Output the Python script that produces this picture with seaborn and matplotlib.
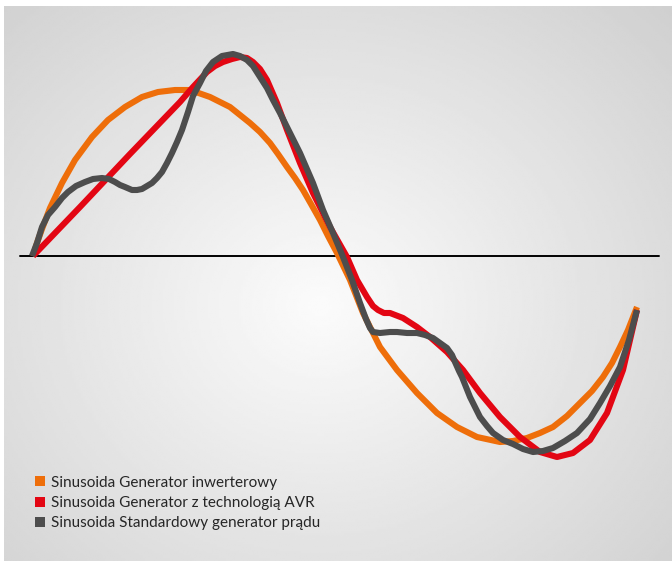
import numpy as np
import pandas as pd
import matplotlib
matplotlib.use("Agg")
import matplotlib.pyplot as plt
from matplotlib.lines import Line2D
import seaborn as sns

# series: x position and amplitude above the zero line
labels = ["Sinusoida Generator inwerterowy",
          "Sinusoida Generator z technologią AVR",
          "Sinusoida Standardowy generator prądu"]
colors = ["#ee6e0a", "#e30613", "#4d4d4d"]

orange_x = [33, 37, 42, 50, 62, 75, 92, 108, 125, 142, 158, 175, 190, 210, 230, 250, 260, 270, 278,
            287, 295, 303, 311, 320, 328, 337, 350, 363, 380, 397, 417, 437, 457, 477, 500, 513, 527,
            540, 553, 567, 580, 592, 603, 612, 620, 628, 637]
orange_y = [0, 13, 27, 48, 73, 96, 119, 136, 149, 159, 164, 166, 166, 159, 149, 133, 124, 113, 102,
            89, 78, 66, 52, 36, 20, 3, -24, -57, -91, -114, -137, -157, -171, -181, -186, -185, -182,
            -177, -171, -160, -147, -135, -121, -107, -91, -74, -51]

red_x = [33, 80, 130, 180, 193, 207, 215, 223, 232, 240, 247, 253, 260, 267, 277, 287, 300, 313,
         330, 347, 357, 367, 373, 378, 384, 390, 403, 417, 430, 447, 463, 480, 500, 520, 540, 557,
         573, 590, 607, 623, 637]
red_y = [0, 49, 102, 154, 169, 184, 190, 194, 197, 199, 198, 194, 187, 176, 153, 126, 93, 63,
         29, -1, -24, -41, -50, -54, -57, -57, -62, -71, -81, -96, -114, -137, -161, -181, -196, -201,
         -197, -184, -157, -114, -54]

grey_x = [32, 37, 42, 48, 55, 62, 68, 76, 85, 93, 102, 109, 115, 120, 125, 132, 137, 142, 147, 152,
          157, 162, 167, 172, 177, 182, 188, 193, 200, 206, 213, 222, 233, 240, 247, 253, 260, 267,
          273, 280, 287, 300, 313, 323, 333, 343, 352, 360, 366, 370, 373, 380, 390, 397, 407, 417,
          425, 433, 440, 447, 452, 455, 459, 462, 466, 470, 475, 480, 487, 493, 503, 513, 523, 533,
          543, 553, 565, 577, 590, 600, 610, 620, 629, 637]
grey_y = [0, 13, 29, 41, 49, 58, 64, 70, 74, 77, 78, 77, 74, 71, 69, 66, 66, 67, 70, 73,
          78, 84, 93, 103, 114, 126, 144, 160, 173, 185, 194, 200, 202, 200, 196, 190, 179, 168,
          156, 143, 129, 103, 73, 46, 23, -1, -24, -47, -63, -72, -76, -77, -76, -76, -77, -77,
          -79, -82, -87, -92, -99, -106, -115, -121, -131, -141, -151, -161, -170, -177, -184, -188,
          -193, -196, -195, -192, -185, -177, -163, -147, -130, -111, -84, -54]

series = {
    labels[0]: (orange_x, orange_y),
    labels[1]: (red_x, red_y),
    labels[2]: (grey_x, grey_y),
}

sns.set_theme(style="white")
plt.rcParams["font.family"] = ["Lato", "DejaVu Sans"]

fig = plt.figure(figsize=(6.72, 5.61), dpi=100)
ax = fig.add_axes([0, 0, 1, 1])
ax.set_xlim(0, 672)
ax.set_ylim(-305, 256)
ax.axis("off")

# radial grey background panel
gx, gy = np.meshgrid(np.linspace(4, 672, 300), np.linspace(250, -305, 250))
r = np.sqrt(((gx - 320) / 430) ** 2 + ((gy + 50) / 380) ** 2)
shade = np.clip(0.985 - 0.15 * r, 0.8, 1)
ax.imshow(shade, cmap="gray", vmin=0, vmax=1, extent=(4, 672, -305, 250),
          aspect="auto", zorder=0, interpolation="bilinear")

ax.plot([20, 659], [0, 0], color="black", lw=1.4, zorder=1)

# draw order: red, grey, orange on top
for idx in [1, 2, 0]:
    xs, ys = series[labels[idx]]
    df = pd.DataFrame({"x": xs, "y": ys})
    sns.lineplot(data=df, x="x", y="y", sort=False, estimator=None, ax=ax,
                 color=colors[idx], lw=4.4, zorder=2 + idx,
                 solid_joinstyle="round", solid_capstyle="butt")

handles = [Line2D([], [], ls="none", marker="s", markersize=7.5, markerfacecolor=c,
                  markeredgewidth=0) for c in colors]
ax.legend(handles, labels, loc="upper left", bbox_to_anchor=(0.035, 0.166), frameon=False,
          fontsize=11, handletextpad=0.1, labelspacing=0.42, handlelength=1.2, borderpad=0)

fig.savefig("out.png", dpi=100)
